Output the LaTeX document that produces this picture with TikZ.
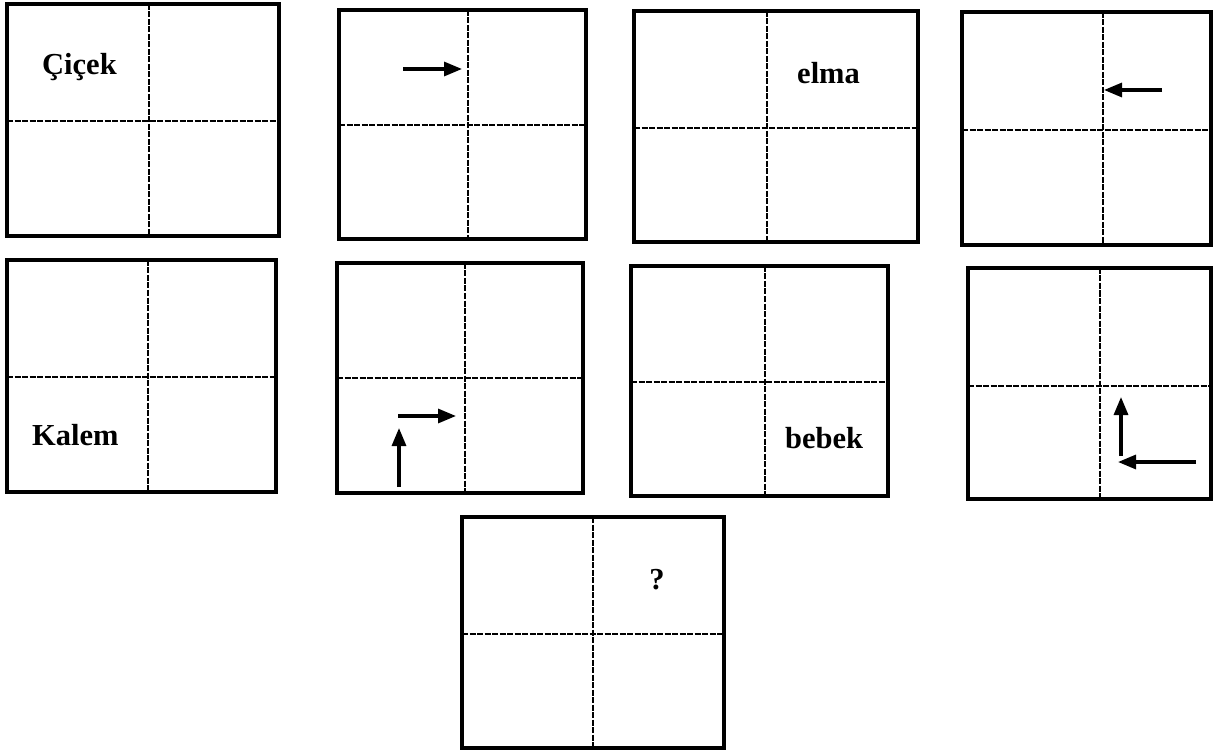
\documentclass[tikz,border=0pt]{standalone}
\usepackage{fontspec}
\setmainfont{Liberation Serif}
\usetikzlibrary{arrows.meta}
\tikzset{
  frame/.style={line width=3.6pt},
  divider/.style={line width=1.2pt, dash pattern=on 6pt off 1.5pt},
  pointer/.style={line width=3.2pt, -{Triangle[length=18pt,width=14pt]}},
  word/.style={anchor=base west, inner sep=0pt, font=\fontsize{30.5}{36}\selectfont\bfseries}
}
% #1 name, #2 left, #3 top, #4 right, #5 bottom, #6 divider x, #7 divider y
\newcommand\quadbox[7]{%
  \coordinate (#1-nw) at (#2,#3);
  \coordinate (#1-se) at (#4,#5);
  \draw[divider] (#6,#3) -- (#6,#5);
  \draw[divider] (#2,#7) -- (#4,#7);
  \draw[frame] (#1-nw) rectangle (#1-se);
}
\begin{document}
\begin{tikzpicture}[x=1pt,y=-1pt]
\useasboundingbox (0,0) rectangle (1215,751);
% row 1
\quadbox{b1}{7}{4}{279}{236}{149}{121}
\quadbox{b2}{339}{10}{586}{239}{468}{125}
\quadbox{b3}{634}{11}{918}{242}{767}{128}
\quadbox{b4}{962}{12}{1211}{245}{1103}{130}
% row 2
\quadbox{b5}{7}{260}{276}{492}{148}{377}
\quadbox{b6}{337}{263}{583}{493}{465}{378}
\quadbox{b7}{631}{266}{888}{496}{765}{382}
\quadbox{b8}{968}{268}{1211}{499}{1100}{386}
% row 3
\quadbox{b9}{462}{517}{724}{748}{593}{634}
% texts
\node[word] (t1) at (42,75) {Çiçek};
\node[word] (t3) at (797,84) {elma};
\node[word] (t5) at (32,445) {Kalem};
\node[word] (t7) at (785,448) {bebek};
\node[word, anchor=base] (t9) at (657,589) {?};
% arrows
\coordinate (a2s) at (403,69); \coordinate (a2e) at (462,69);
\draw[pointer] (a2s) -- (a2e);
\coordinate (a4s) at (1162,90); \coordinate (a4e) at (1104,90);
\draw[pointer] (a4s) -- (a4e);
\coordinate (a6s) at (398,416); \coordinate (a6e) at (456,416);
\draw[pointer] (a6s) -- (a6e);
\coordinate (a6u) at (399,487); \coordinate (a6v) at (399,428);
\draw[pointer] (a6u) -- (a6v);
\coordinate (a8u) at (1121,456); \coordinate (a8v) at (1121,397);
\draw[pointer] (a8u) -- (a8v);
\coordinate (a8s) at (1196,462); \coordinate (a8e) at (1118,462);
\draw[pointer] (a8s) -- (a8e);
\end{tikzpicture}
\end{document}
